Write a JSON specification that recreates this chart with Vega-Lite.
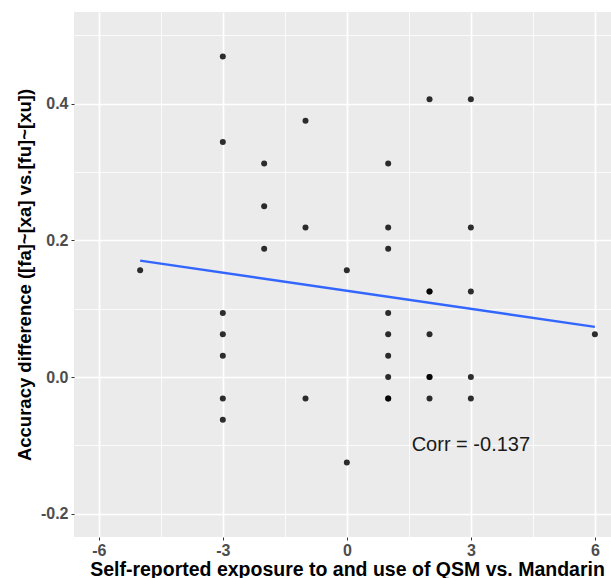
{
  "$schema": "https://vega.github.io/schema/vega-lite/v6.json",
  "autosize": "none",
  "padding": {"left": 74, "top": 12, "right": 0, "bottom": 41},
  "width": 537,
  "height": 525,
  "background": "white",
  "config": {
    "view": {"fill": "#EBEBEB", "stroke": null},
    "font": "Liberation Sans",
    "axis": {
      "domain": false,
      "gridColor": "white",
      "tickColor": "#333333",
      "tickSize": 3,
      "tickWidth": 1,
      "labelColor": "#4D4D4D",
      "labelFont": "Liberation Sans",
      "labelFontWeight": "bold",
      "labelFontSize": 16,
      "titleFont": "Liberation Sans",
      "titleFontWeight": "bold",
      "titleColor": "black"
    }
  },
  "datasets": {
    "pts": [
      {"exposure": -5, "diff": 0.15625},
      {"exposure": -3, "diff": 0.46875},
      {"exposure": -3, "diff": 0.34375},
      {"exposure": -3, "diff": 0.09375},
      {"exposure": -3, "diff": 0.0625},
      {"exposure": -3, "diff": 0.03125},
      {"exposure": -3, "diff": -0.03125},
      {"exposure": -3, "diff": -0.0625},
      {"exposure": -2, "diff": 0.3125},
      {"exposure": -2, "diff": 0.25},
      {"exposure": -2, "diff": 0.1875},
      {"exposure": -1, "diff": 0.375},
      {"exposure": -1, "diff": 0.21875},
      {"exposure": -1, "diff": -0.03125},
      {"exposure": 0, "diff": 0.15625},
      {"exposure": 0, "diff": -0.125},
      {"exposure": 1, "diff": 0.3125},
      {"exposure": 1, "diff": 0.21875},
      {"exposure": 1, "diff": 0.1875},
      {"exposure": 1, "diff": 0.09375},
      {"exposure": 1, "diff": 0.0625},
      {"exposure": 1, "diff": 0.03125},
      {"exposure": 1, "diff": 0},
      {"exposure": 1, "diff": -0.03125},
      {"exposure": 1, "diff": -0.03125},
      {"exposure": 2, "diff": 0.40625},
      {"exposure": 2, "diff": 0.125},
      {"exposure": 2, "diff": 0.125},
      {"exposure": 2, "diff": 0.0625},
      {"exposure": 2, "diff": 0},
      {"exposure": 2, "diff": 0},
      {"exposure": 2, "diff": -0.03125},
      {"exposure": 3, "diff": 0.40625},
      {"exposure": 3, "diff": 0.21875},
      {"exposure": 3, "diff": 0.125},
      {"exposure": 3, "diff": 0},
      {"exposure": 3, "diff": -0.03125},
      {"exposure": 6, "diff": 0.0625}
    ],
    "label": [{"exposure": 3, "diff": -0.1, "text": "Corr = -0.137"}]
  },
  "encoding": {
    "x": {
      "field": "exposure",
      "type": "quantitative",
      "scale": {"domain": [-6.6, 6.39], "nice": false, "zero": false},
      "axis": {
        "title": "Self-reported exposure to and use of QSM vs. Mandarin",
        "titleFontSize": 19.5,
        "values": [-6, -4.5, -3, -1.5, 0, 1.5, 3, 4.5, 6],
        "labelExpr": "datum.value % 3 === 0 ? (datum.value < 0 ? '-' : '') + format(abs(datum.value), 'd') : ''",
        "gridWidth": {"condition": {"test": "datum.value % 3 === 0", "value": 1.7}, "value": 0.8},
        "tickOpacity": {"condition": {"test": "datum.value % 3 === 0", "value": 1}, "value": 0},
        "labelPadding": 2,
        "titlePadding": 2,
        "titleX": 273
      }
    },
    "y": {
      "field": "diff",
      "type": "quantitative",
      "scale": {"domain": [-0.234, 0.534], "nice": false, "zero": false},
      "axis": {
        "title": "Accuracy difference ([fa]~[xa] vs.[fu]~[xu])",
        "titleFontSize": 18.5,
        "values": [-0.2, -0.1, 0, 0.1, 0.2, 0.3, 0.4, 0.5],
        "labelExpr": "round(datum.value * 10) % 2 === 0 ? (datum.value < 0 ? '-' : '') + format(abs(datum.value), '.1f') : ''",
        "gridWidth": {"condition": {"test": "round(datum.value * 10) % 2 === 0", "value": 1.7}, "value": 0.8},
        "tickOpacity": {"condition": {"test": "round(datum.value * 10) % 2 === 0", "value": 1}, "value": 0},
        "labelPadding": 3,
        "titlePadding": 6
      }
    }
  },
  "layer": [
    {
      "data": {"name": "pts"},
      "mark": {"type": "circle", "size": 36, "color": "black", "opacity": 0.82}
    },
    {
      "data": {"name": "pts"},
      "transform": [{"regression": "diff", "on": "exposure"}],
      "mark": {"type": "line", "color": "#3366FF", "strokeWidth": 2.4}
    },
    {
      "data": {"name": "label"},
      "mark": {"type": "text", "fontSize": 20, "font": "Liberation Sans", "color": "#1A1A1A", "baseline": "middle", "align": "center"},
      "encoding": {"text": {"field": "text"}}
    }
  ]
}
